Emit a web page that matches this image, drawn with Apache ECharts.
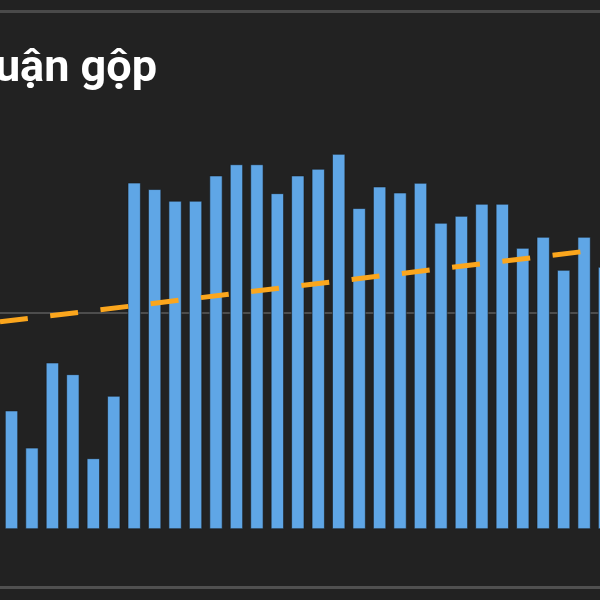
<!DOCTYPE html>
<html>
<head>
<meta charset="utf-8">
<script src="https://cdn.jsdelivr.net/npm/echarts@6/dist/echarts.min.js"></script>
<style>
html,body{margin:0;padding:0;background:#222222;}
#chart{width:600px;height:600px;}
</style>
</head>
<body>
<div id="chart"></div>
<script>
// Categories (periods); the first one lies just outside the visible crop
const categories = ['K0','K1','K2','K3','K4','K5','K6','K7','K8','K9','K10','K11','K12','K13','K14','K15','K16','K17','K18','K19','K20','K21','K22','K23','K24','K25','K26','K27','K28','K29','K30'];
// Gross profit bars
const grossProfit = [null, 5480, 3760, 7700, 7160, 3270, 6160, 16030, 15730, 15190, 15190, 16360, 16880, 16880, 15540, 16360, 16670, 17360, 14850, 15850, 15570, 16020, 14170, 14490, 15050, 15050, 13010, 13520, 11990, 13520, 12130];
// Trend line end points
const trend = [9540, null, null, null, null, null, null, null, null, null, null, null, null, null, null, null, null, null, null, null, null, null, null, null, null, null, null, null, null, null, 12965];
const yTicks = [0, 10000, 20000];

const chart = echarts.init(document.getElementById('chart'), null, {renderer: 'canvas'});
chart.setOption({
  backgroundColor: '#222222',
  animation: false,
  title: {
    text: 'Lợi nhuận gộp',
    right: 443,
    top: 47,
    padding: 0,
    textStyle: {color: '#ffffff', fontSize: 45, fontWeight: 'bold', fontFamily: 'Roboto'}
  },
  graphic: [
    {type: 'rect', left: 0, top: 10, shape: {width: 600, height: 3}, style: {fill: '#4a4a4a'}, silent: true},
    {type: 'rect', left: 0, top: 586, shape: {width: 600, height: 3}, style: {fill: '#505050'}, silent: true}
  ],
  grid: {left: -19.175, width: 633.95, top: 97, bottom: 71, containLabel: false, outerBoundsMode: 'none'},
  xAxis: {
    type: 'category',
    data: categories,
    boundaryGap: true,
    axisLine: {show: false},
    axisTick: {show: false},
    axisLabel: {show: false},
    splitLine: {show: false}
  },
  yAxis: {
    type: 'value',
    min: yTicks[0],
    max: yTicks[2],
    interval: yTicks[1] - yTicks[0],
    axisLine: {show: false},
    axisTick: {show: false},
    axisLabel: {show: false},
    splitLine: {
      show: true,
      lineStyle: {color: ['rgba(0,0,0,0)', '#4d4d4d', 'rgba(0,0,0,0)'], width: 2}
    }
  },
  series: [
    {
      type: 'bar',
      data: grossProfit,
      barWidth: 13,
      itemStyle: {color: '#5fa6e6', borderColor: '#1a1a1a', borderWidth: 0.6},
      z: 2
    },
    {
      type: 'line',
      data: trend,
      connectNulls: true,
      symbol: 'none',
      lineStyle: {color: '#fba61d', width: 5, type: [28, 22.6], dashOffset: 41.6, cap: 'butt'},
      z: 3
    }
  ]
});
</script>
</body>
</html>
